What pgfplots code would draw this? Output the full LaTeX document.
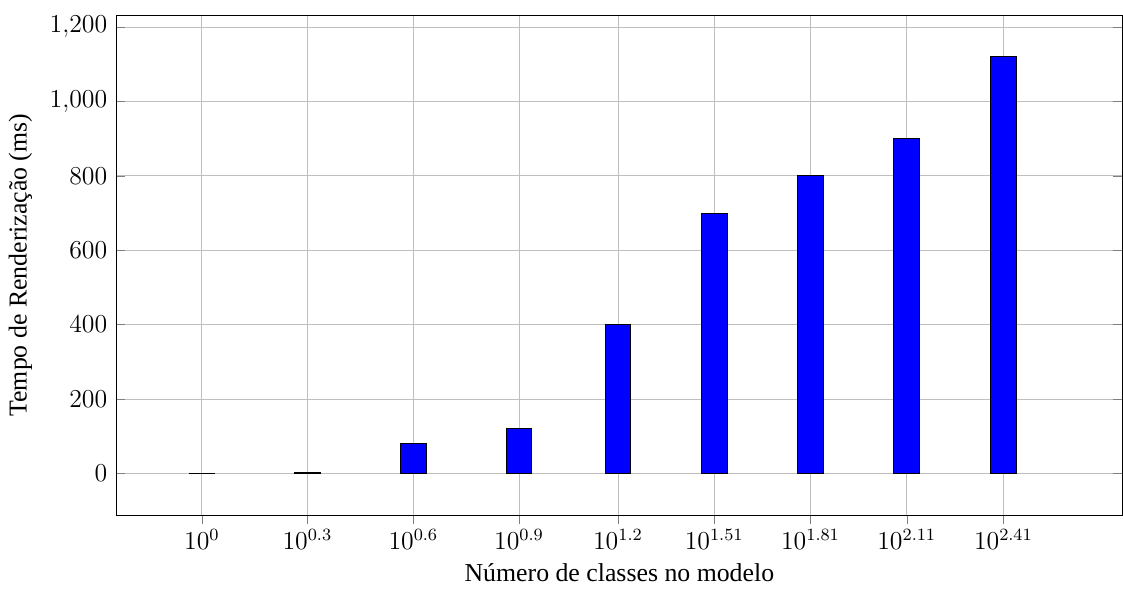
\documentclass[border=0pt,12pt]{standalone}
\usepackage{pgfplots}
\pgfplotsset{compat=1.18}
\usepackage{fontspec}
\setmainfont{Liberation Serif}
\begin{document}
\begin{tikzpicture}
\begin{axis}[
  scale only axis,
  width=468pt, height=232.6pt,
  xmin=-0.811, xmax=8.716,
  ymin=-112, ymax=1232,
  ytick={0,200,400,600,800,1000,1200},
  xtick={0,0.999,2.002,3.002,3.939,4.850,5.762,6.673,7.588},
  xticklabels={$10^{0}$,$10^{0.3}$,$10^{0.6}$,$10^{0.9}$,$10^{1.2}$,$10^{1.51}$,$10^{1.81}$,$10^{2.11}$,$10^{2.41}$},
  xtick pos=bottom,
  tick align=inside,
  xticklabel shift=-2pt,
  xlabel style={yshift=1.5pt},
  grid=major,
  xlabel={Número de classes no modelo},
  ylabel={Tempo de Renderização (ms)},
  ybar, bar width=12pt,
]
\addplot[fill=blue, draw=black] coordinates {
 (0,1) (0.999,4) (2.002,80) (3.002,120) (3.939,400) (4.850,700) (5.762,800) (6.673,900) (7.588,1120)
};
\end{axis}
\path (current axis.north west) ++(0,7pt);
\end{tikzpicture}
\end{document}
